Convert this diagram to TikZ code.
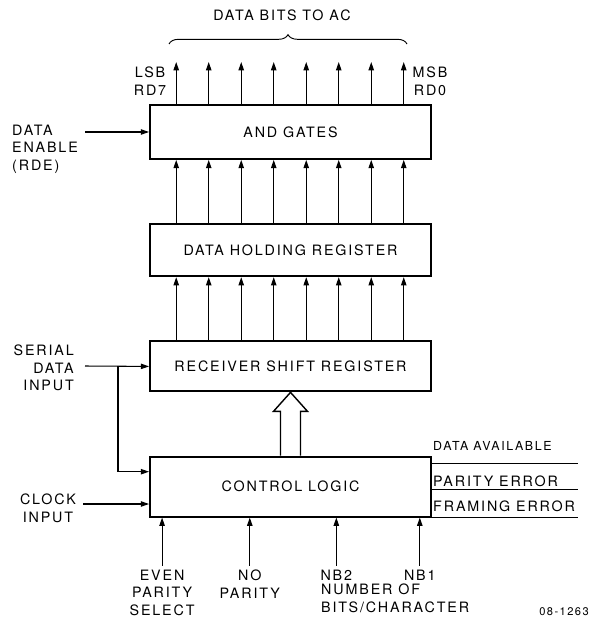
\documentclass[tikz,border=0pt]{standalone}
\usepackage{fontspec}
\setmainfont{TeX Gyre Heros}
\newfontfamily\stencil{TeX Gyre Heros}[LetterSpace=13]
\usepackage{tikz}
\usetikzlibrary{arrows.meta,positioning,calc,decorations.pathreplacing}
\newcommand{\tagfont}{\stencil\fontsize{12.2}{15}\selectfont}
\newcommand{\smalltag}{\stencil\fontsize{10.6}{12}\selectfont}

\begin{document}
\begin{tikzpicture}[x=0.03cm, y=-0.03cm, node distance=1.9cm,
  blk/.style={rectangle, draw, line width=1.6pt, minimum width=8.43cm,
              inner sep=0pt, font=\tagfont},
  sig/.style={-{Triangle[length=7pt,width=4.6pt]}, line width=0.9pt},
  lbl/.style={inner sep=0pt, font=\tagfont, align=center},
  rule/.style={line width=0.8pt}]

  \useasboundingbox (0,0) rectangle (589,626);

  % Blocks
  \node[blk, minimum height=1.62cm] (AND) at (290.5,132) {AND GATES};
  \node[blk, minimum height=1.56cm, below=of AND] (DHR) {DATA HOLDING REGISTER};
  \node[blk, minimum height=1.5cm, below=of DHR] (RSR) {RECEIVER SHIFT REGISTER};
  \node[blk, minimum height=1.8cm, below=of RSR] (CL) {CONTROL LOGIC};

  % Data bus
  \foreach \i in {0,...,7}{
    \pgfmathsetmacro\f{0.096+0.1149*\i}
    \coordinate (out\i) at ($(AND.north west)!\f!(AND.north east)+(0,-42)$);
    \draw[sig] ($(AND.north west)!\f!(AND.north east)$) -- (out\i);
    \draw[sig] ($(DHR.north west)!\f!(DHR.north east)$) -- ($(AND.south west)!\f!(AND.south east)$);
    \draw[sig] ($(RSR.north west)!\f!(RSR.north east)$) -- ($(DHR.south west)!\f!(DHR.south east)$);
  }

  % Brace
  \coordinate (braceL) at (169,44);
  \coordinate (braceR) at (407,44);
  \draw[rule, decorate, decoration={brace, amplitude=8pt}] (braceL) -- (braceR);
  \node[lbl] (bits) at (282,15) {DATA BITS TO AC};
  \node[lbl] (lsb) at (150,81) {LSB\\RD7};
  \node[lbl] (msb) at (430,81) {MSB\\RD0};

  % Inputs on the left
  \node[lbl, align=left, anchor=west] (rde) at (12,149) {DATA\\ENABLE\\(RDE)};
  \coordinate (rdein) at (85,132);
  \draw[sig] (rdein) -- (AND.west);

  \node[lbl, align=right, anchor=east] (sdi) at (74,368) {SERIAL\\DATA\\INPUT};
  \coordinate (sdin) at (85,366);
  \coordinate (tap) at (118,366);
  \draw[sig] (sdin) -- (RSR.west);
  \draw[sig] (tap) |- ($(CL.north west)+(0,16)$);

  \node[lbl] (clk) at (48,508) {CLOCK\\INPUT};
  \coordinate (clkin) at (83,504);
  \draw[sig] (clkin) -- (clkin -| CL.west);

  % Control to shift register
  \draw[line width=1.2pt, fill=white] ($(CL.north)+(-10,0)$) -- ($(RSR.south)+(-10,19)$)
    -- ($(RSR.south)+(-17,19)$) -- (RSR.south) -- ($(RSR.south)+(17,19)$)
    -- ($(RSR.south)+(10,19)$) -- ($(CL.north)+(10,0)$);

  % Status outputs
  \coordinate (avail) at (578,463);
  \coordinate (parity) at (578,489);
  \coordinate (framing) at (578,517);
  \draw[rule] (avail -| CL.east) -- (avail);
  \draw[rule] (parity -| CL.east) -- (parity);
  \draw[rule] (framing -| CL.east) -- (framing);
  \node[lbl, font=\smalltag, anchor=west] at (433,446) {DATA AVAILABLE};
  \node[lbl, anchor=west] at (433,481) {PARITY ERROR};
  \node[lbl, anchor=west] at (433,506) {FRAMING ERROR};

  % Mode inputs
  \foreach \f/\n in {0.046/even, 0.356/nopar, 0.662/nbtwo, 0.957/nbone}{
    \coordinate (\n) at ($(CL.south west)!\f!(CL.south east)+(0,48)$);
    \draw[sig] (\n) -- ($(CL.south west)!\f!(CL.south east)$);
  }
  \node[lbl, below=0.12cm of even] {EVEN\\PARITY\\SELECT};
  \node[lbl, below=0.12cm of nopar] {NO\\PARITY};
  \node[lbl, below=0.12cm of nbtwo] {NB2};
  \node[lbl, below=0.12cm of nbone] {NB1};
  \node[lbl, align=left, anchor=north west] at (321,584) {NUMBER OF\\BITS/CHARACTER};

  \node[lbl, font=\stencil\fontsize{9.5}{10}\selectfont] at (564,612) {08-1263};
\end{tikzpicture}
\end{document}
